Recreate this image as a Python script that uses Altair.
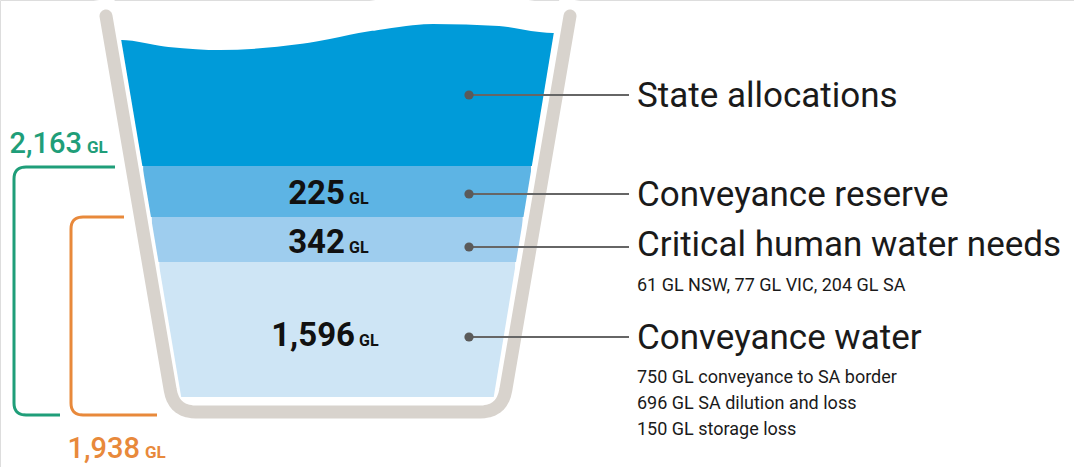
import altair as alt
import pandas as pd
import numpy as np

# ---------------- data ----------------
layers = ["State allocations", "Conveyance reserve", "Critical human water needs", "Conveyance water"]
volumes_gl = [None, 225, 342, 1596]
volume_text = ["", "225", "342", "1,596"]
notes_critical = ["61 GL NSW, 77 GL VIC, 204 GL SA"]
notes_conveyance = ["750 GL conveyance to SA border", "696 GL SA dilution and loss", "150 GL storage loss"]
total_names = ["Total with conveyance reserve", "Total without conveyance reserve"]
totals_gl = [2163, 1938]
total_text = ["2,163", "1,938"]

# ---------------- layout / style ----------------
W, H = 1074, 467
band_colors = ["#009bd9", "#5db4e4", "#9ecdee", "#cee5f5"]
band_top = [21, 166, 217, 262]
band_bottom = [166, 217, 262, 397]
total_colors = ["#1f9e79", "#e8893b"]
wall_color = "#d8d3cd"
NUM_FONT = "Roboto"
LAB_FONT = "Roboto"


def left_edge(y):
    return 122 + 0.168 * (y - 40)


def right_edge(y):
    return 553 - 0.165 * (y - 33)


xs = alt.Scale(domain=[0, W], nice=False, zero=False)
ys = alt.Scale(domain=[H, 0], nice=False, zero=False)


def X(f="x"):
    return alt.X(f"{f}:Q", scale=xs, axis=None)


def Y(f="y"):
    return alt.Y(f"{f}:Q", scale=ys, axis=None)


def rounded(pts, r, n=10):
    pts = [np.array(p, dtype=float) for p in pts]
    out = [pts[0]]
    for i in range(1, len(pts) - 1):
        A, P, B = pts[i - 1], pts[i], pts[i + 1]
        u = (A - P) / np.linalg.norm(A - P)
        v = (B - P) / np.linalg.norm(B - P)
        s, e = P + u * r, P + v * r
        for t in np.linspace(0, 1, n):
            out.append((1 - t) ** 2 * s + 2 * (1 - t) * t * P + t ** 2 * e)
    out.append(pts[-1])
    return pd.DataFrame({"x": [p[0] for p in out], "y": [p[1] for p in out], "i": range(len(out))})


# water bands as blocks, trimmed to the tapering bucket by white strips
bands_df = pd.DataFrame({
    "band": layers,
    "c": band_colors,
    "y": band_top,
    "y2": band_bottom,
    "x": [left_edge(t) for t in band_top],
    "x2": [right_edge(t) for t in band_top],
})
bands = alt.Chart(bands_df).mark_rect().encode(
    x=X(), x2="x2:Q", y=Y(), y2="y2:Q", color=alt.Color("c:N", scale=None)
)

trim_y = [0, 430]
trim_l = pd.DataFrame({"y": trim_y, "x": [left_edge(v) - 16 for v in trim_y]})
trim_r = pd.DataFrame({"y": trim_y, "x": [right_edge(v) + 16 for v in trim_y]})
trims = [
    alt.Chart(d).mark_line(color="white", strokeWidth=30).encode(x=X(), y=Y(), order="y:Q")
    for d in (trim_l, trim_r)
]

# wavy water surface: white band just above the curve
wave_x = [95, 122, 170, 220, 300, 370, 433, 500, 553, 585]
wave_y = [40, 40, 47, 50, 44, 31, 24, 26, 33, 33]
wave_df = pd.DataFrame({"x": wave_x, "y": [v - 15 for v in wave_y]})
wave = alt.Chart(wave_df).mark_line(color="white", strokeWidth=30, interpolate="monotone").encode(
    x=X(), y=Y(), order="x:Q")

# bucket wall
wall_df = rounded([(106, 16), (174, 412), (502, 412), (570, 16)], 22)
wall = alt.Chart(wall_df).mark_line(color=wall_color, strokeWidth=13, strokeCap="round",
                                    strokeJoin="round").encode(x=X(), y=Y(), order="i:Q")

# brackets
g_df = rounded([(115, 167), (14, 167), (14, 415), (60, 415)], 12)
o_df = rounded([(124, 217), (71, 217), (71, 415), (157, 415)], 12)
g_line = alt.Chart(g_df).mark_line(color=total_colors[0], strokeWidth=3).encode(x=X(), y=Y(), order="i:Q")
o_line = alt.Chart(o_df).mark_line(color=total_colors[1], strokeWidth=3).encode(x=X(), y=Y(), order="i:Q")

# pointers
ptr_y = [95, 194, 247, 337]
ptr_df = pd.DataFrame({"layer": layers, "y": ptr_y, "x": 469, "x2": 629})
ptr_lines = alt.Chart(ptr_df).mark_rule(color="#666666", strokeWidth=2).encode(x=X(), x2="x2:Q", y=Y())
ptr_dots = alt.Chart(ptr_df).mark_circle(color="#5a5a5a", opacity=1, size=85).encode(x=X(), y=Y())

lab_df = pd.DataFrame({"text": layers, "x": 637, "y": [107, 206, 256, 349]})
labels = alt.Chart(lab_df).mark_text(align="left", baseline="alphabetic", font=LAB_FONT,
                                     fontSize=35, color="#1a1a1a").encode(x=X(), y=Y(), text="text:N")

notes_df = pd.DataFrame({
    "text": notes_critical + notes_conveyance,
    "x": 637,
    "y": [291, 383, 409, 435],
})
notes = alt.Chart(notes_df).mark_text(align="left", baseline="alphabetic", font=NUM_FONT,
                                      fontSize=18, color="#1a1a1a").encode(x=X(), y=Y(), text="text:N")

# volumes in bucket
vol_df = pd.DataFrame({"text": volume_text[1:], "x": [345, 345, 355], "y": [204, 253, 346]})
vol_num = alt.Chart(vol_df).mark_text(align="right", baseline="alphabetic", font=NUM_FONT,
                                      fontSize=33, fontWeight="bold", color="#111111").encode(
    x=X(), y=Y(), text="text:N")
vol_gl = alt.Chart(vol_df.assign(x=vol_df.x + 4, gl="GL")).mark_text(
    align="left", baseline="alphabetic", font=NUM_FONT, fontSize=16, fontWeight="bold",
    color="#111111").encode(x=X(), y=Y(), text="gl:N")

# totals
tot_df = pd.DataFrame({"name": total_names, "text": total_text, "x": [82, 140], "y": [153, 458],
                       "c": total_colors})
tot_num = alt.Chart(tot_df).mark_text(align="right", baseline="alphabetic", font=NUM_FONT,
                                      fontSize=29, fontWeight=500).encode(
    x=X(), y=Y(), text="text:N", color=alt.Color("c:N", scale=None))
tot_gl = alt.Chart(tot_df.assign(x=tot_df.x + 5, gl="GL")).mark_text(
    align="left", baseline="alphabetic", font=NUM_FONT, fontSize=17, fontWeight="bold").encode(
    x=X(), y=Y(), text="gl:N", color=alt.Color("c:N", scale=None))

chart = alt.layer(
    bands, *trims, wave, wall, g_line, o_line, ptr_lines, ptr_dots, labels, notes,
    vol_num, vol_gl, tot_num, tot_gl
).properties(
    width=W, height=H, padding=0, autosize=alt.AutoSizeParams(type="none")
).configure_view(stroke=None).configure(background="white")

chart.save("out.html", embed_options={"renderer": "svg", "actions": False})
